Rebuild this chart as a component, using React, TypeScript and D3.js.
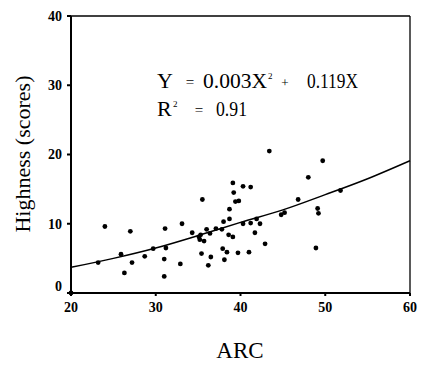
import React from "react";
import * as d3 from "d3";

// scatter points (ARC vs Highness)
const arcValues = [
  20.0, 23.2, 24.0, 25.9, 26.3, 27.0, 27.2, 28.7, 29.7, 31.1, 31.0, 31.0, 31.2,
  32.9, 33.1, 34.3, 35.2, 35.3, 35.1, 35.5, 35.4, 35.7, 36.0, 36.2, 36.4, 36.5,
  37.1, 37.8, 37.9, 38.0, 38.1, 38.4, 38.7, 38.7, 38.6, 39.1, 39.2, 39.1, 39.4,
  39.8, 39.7, 40.3, 40.3, 41.0, 41.2, 41.2, 41.9, 41.7, 42.3, 42.9, 43.4, 44.8,
  45.2, 46.8, 48.0, 48.9, 49.1, 49.2, 49.7, 51.8,
];
const highnessValues = [
  0.0, 4.4, 9.6, 5.6, 2.9, 8.9, 4.4, 5.3, 6.4, 9.3, 4.9, 2.4, 6.5,
  4.2, 10.0, 8.7, 7.7, 8.4, 8.1, 13.5, 5.7, 7.5, 9.2, 4.0, 8.6, 5.2,
  9.3, 9.2, 6.4, 10.3, 4.8, 5.9, 10.7, 12.1, 8.4, 15.9, 14.5, 8.1, 13.2,
  13.3, 5.8, 15.4, 10.0, 5.9, 15.3, 10.1, 10.7, 8.7, 10.0, 7.1, 20.5, 11.3,
  11.6, 13.5, 16.7, 6.5, 12.2, 11.5, 19.1, 14.8,
];

// fitted curve
const fitArc = [20, 25, 30, 35, 40, 45, 50, 55, 60];
const fitHighness = [3.7, 5.0, 6.5, 8.3, 10.2, 12.0, 14.2, 16.5, 19.1];

const xTicks = [20, 30, 40, 50, 60];
const yTicks = [0, 10, 20, 30, 40];

const width = 421;
const height = 365;
const marginLeft = 71;
const marginRight = 11;
const marginTop = 16;
const marginBottom = 72;

export default function App() {
  const x = d3
    .scaleLinear()
    .domain([20, 60])
    .range([marginLeft, width - marginRight]);
  const y = d3
    .scaleLinear()
    .domain([0, 40])
    .range([height - marginBottom, marginTop]);

  const line = d3
    .line<number>()
    .x((d) => x(d))
    .y((d, i) => y(fitHighness[i]))
    .curve(d3.curveMonotoneX);

  const font = "'Liberation Serif', 'DejaVu Serif', serif";
  const x0 = x(20);
  const x1 = x(60);
  const y0 = y(0);
  const y1 = y(40);

  return (
    <svg
      width={width}
      height={height}
      style={{ position: "absolute", left: 0, top: 0, background: "#fff" }}
      fontFamily={font}
    >
      {/* frame */}
      <line x1={x0} x2={x1} y1={y1} y2={y1} stroke="#000" strokeWidth={1.3} />
      <line x1={x1} x2={x1} y1={y1} y2={y0} stroke="#000" strokeWidth={1.3} />
      <line x1={x0} x2={x0} y1={y1} y2={y0} stroke="#000" strokeWidth={2} />
      <line x1={x0} x2={x1} y1={y0} y2={y0} stroke="#000" strokeWidth={2} />

      {/* y ticks */}
      {yTicks.map((t) => (
        <g key={"y" + t}>
          <line x1={x0 - 4} x2={x0} y1={y(t)} y2={y(t)} stroke="#000" strokeWidth={2} />
          <text
            x={x0 - 9}
            y={y(t) - (t === 0 ? 7 : 0)}
            dy="0.35em"
            textAnchor="end"
            fontSize={14}
            fontWeight="bold"
          >
            {t}
          </text>
        </g>
      ))}

      {/* x ticks */}
      {xTicks.map((t) => (
        <g key={"x" + t}>
          <line x1={x(t)} x2={x(t)} y1={y0} y2={y0 + 3} stroke="#000" strokeWidth={2} />
          <text x={x(t)} y={y0 + 19} textAnchor="middle" fontSize={14} fontWeight="bold">
            {t}
          </text>
        </g>
      ))}

      {/* fitted curve */}
      <path d={line(fitArc) ?? ""} fill="none" stroke="#000" strokeWidth={1.5} />

      {/* points */}
      {arcValues.map((a, i) => (
        <circle key={i} cx={x(a)} cy={y(highnessValues[i])} r={2.4} fill="#000" />
      ))}

      {/* equation, pieces placed like the original typesetting */}
      <g fontSize={22}>
        <text x={157} y={88}>Y</text>
        <text x={190} y={87} textAnchor="middle" fontSize={15}>=</text>
        <text x={203} y={88} textLength={64} lengthAdjust="spacingAndGlyphs">0.003X</text>
        <text x={268} y={79} fontSize={9}>2</text>
        <text x={285} y={87} textAnchor="middle" fontSize={13}>+</text>
        <text x={307} y={88} textLength={51} lengthAdjust="spacingAndGlyphs">0.119X</text>

        <text x={157} y={116}>R</text>
        <text x={173} y={107} fontSize={9}>2</text>
        <text x={199} y={115} textAnchor="middle" fontSize={15}>=</text>
        <text x={216} y={116} textLength={31} lengthAdjust="spacingAndGlyphs">0.91</text>
      </g>

      {/* axis titles */}
      <text x={240} y={358} textAnchor="middle" fontSize={23}>
        ARC
      </text>
      <text
        transform={`translate(30, 154) rotate(-90)`}
        textAnchor="middle"
        fontSize={22}
      >
        Highness (scores)
      </text>
    </svg>
  );
}
